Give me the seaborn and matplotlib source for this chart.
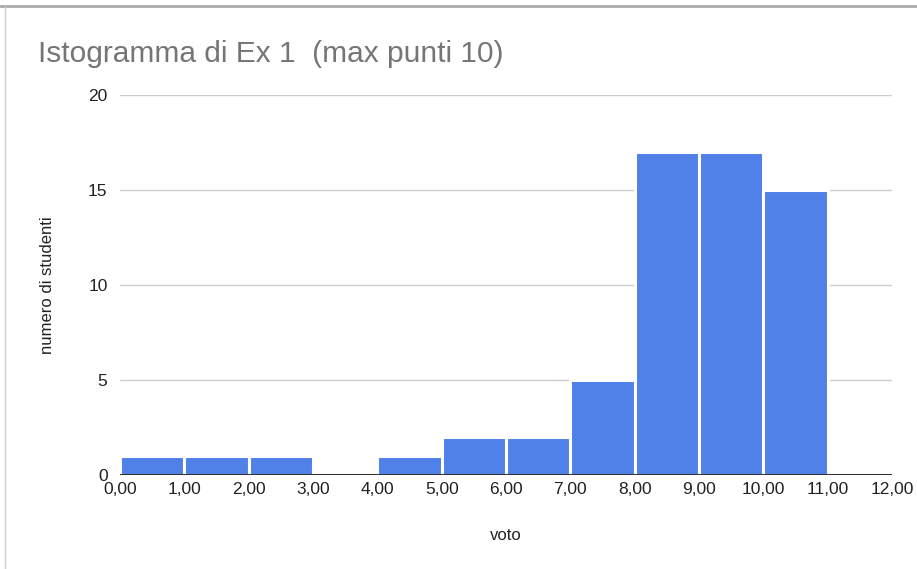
import numpy as np
import pandas as pd
import matplotlib.pyplot as plt
import seaborn as sns
from matplotlib.lines import Line2D

# bin edges and counts
bin_edges = [0, 1, 2, 3, 4, 5, 6, 7, 8, 9, 10, 11, 12]
counts = [1, 1, 1, 0, 1, 2, 2, 5, 17, 17, 15, 0]
xtick_labels = ["0,00", "1,00", "2,00", "3,00", "4,00", "5,00", "6,00",
                "7,00", "8,00", "9,00", "10,00", "11,00", "12,00"]
yticks = [0, 5, 10, 15, 20]

df = pd.DataFrame({
    "voto": [(a + b) / 2 for a, b in zip(bin_edges[:-1], bin_edges[1:])],
    "n": counts,
})

sns.set_style("white")
plt.rcParams["font.family"] = ["Liberation Sans", "DejaVu Sans"]

fig = plt.figure(figsize=(9.17, 5.69), dpi=100)
ax = fig.add_axes([0.1309, 0.1652, 0.8418, 0.6678])

sns.histplot(data=df, x="voto", weights="n", bins=bin_edges, ax=ax,
             color="#4f81e8", alpha=1, edgecolor="white", linewidth=2.2,
             zorder=3)

ax.set_xlim(0, 12)
ax.set_ylim(0, 20)
ax.set_xticks(bin_edges)
ax.set_xticklabels(xtick_labels, fontsize=12.5, color="#222222")
ax.set_yticks(yticks)
ax.set_yticklabels([str(v) for v in yticks], fontsize=12.5, color="#222222")
ax.tick_params(axis="both", length=0)
ax.tick_params(axis="x", pad=5)
ax.tick_params(axis="y", pad=9)
ax.grid(axis="y", color="#cccccc", linewidth=1, zorder=0)
for s in ax.spines.values():
    s.set_visible(False)
ax.axhline(0, color="#333333", linewidth=1.5, zorder=4)

ax.set_xlabel("voto", fontsize=12, color="#222222", labelpad=22)
ax.set_ylabel("numero di studenti", fontsize=12, color="#222222", labelpad=24)

fig.text(38 / 917, 1 - 54 / 569, "Istogramma di Ex 1  (max punti 10)",
         fontsize=21.5, color="#757575", va="center", ha="left")

# frame lines of the screenshot
fig.add_artist(Line2D([0, 1], [1 - 6 / 569, 1 - 6 / 569],
                      transform=fig.transFigure, color="#aaaaaa", linewidth=2))
fig.add_artist(Line2D([5 / 917, 5 / 917], [0, 1 - 6 / 569],
                      transform=fig.transFigure, color="#cccccc", linewidth=1))

fig.savefig("out.png", dpi=100)
